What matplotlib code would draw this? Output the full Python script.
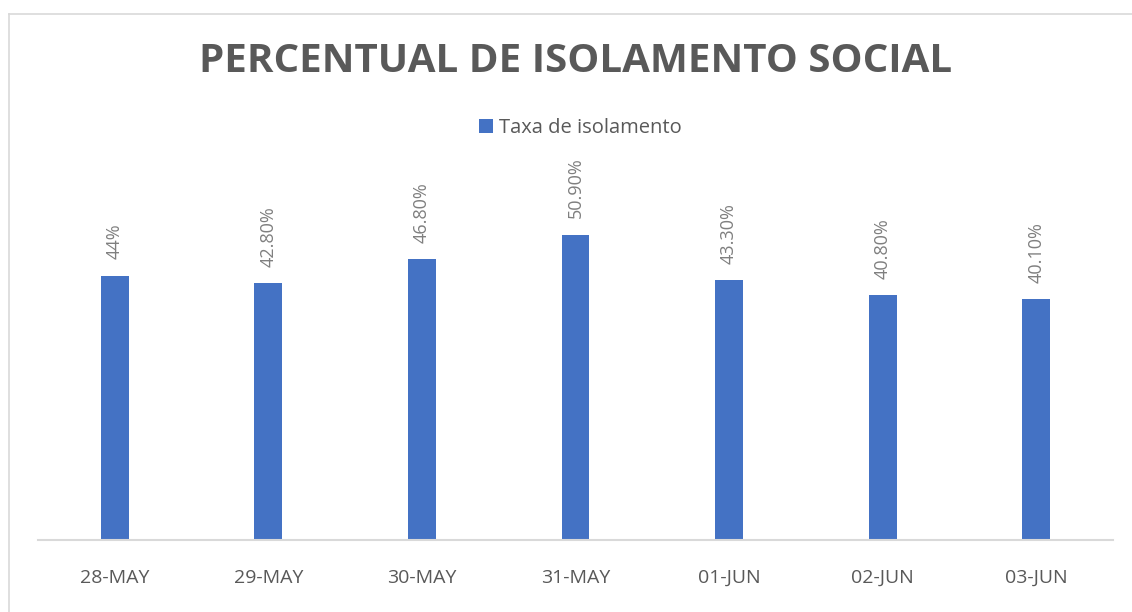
import matplotlib
matplotlib.use("Agg")
import matplotlib.pyplot as plt
from matplotlib.lines import Line2D
from matplotlib.patches import Patch

categories = ["28-MAY", "29-MAY", "30-MAY", "31-MAY", "01-JUN", "02-JUN", "03-JUN"]
values = [44.0, 42.8, 46.8, 50.9, 43.3, 40.8, 40.1]
value_labels = ["44%", "42.80%", "46.80%", "50.90%", "43.30%", "40.80%", "40.10%"]
series_name = "Taxa de isolamento"
title = "PERCENTUAL DE ISOLAMENTO SOCIAL"

plt.rcParams['font.family'] = ['Open Sans', 'DejaVu Sans']

W, H = 1132, 612
fig = plt.figure(figsize=(W / 100, H / 100), dpi=100)
fig.patch.set_facecolor("white")

# chart border (top and left visible)
bx, by = 8.5 / W, 1 - 13.5 / H
fig.add_artist(Line2D([bx, 1.0], [by, by], transform=fig.transFigure, color="#d9d9d9", lw=1.2))
fig.add_artist(Line2D([bx, bx], [0, by], transform=fig.transFigure, color="#d9d9d9", lw=1.2))

ax = fig.add_axes([38 / W, 1 - 540 / H, (1113 - 38) / W, (540 - 180) / H])
x = list(range(len(categories)))
bars = ax.bar(x, values, width=0.182, color="#4472c4", zorder=2)
ax.set_xlim(-0.5, len(categories) - 0.5)
ax.set_ylim(0, 60)
ax.set_yticks([])
for s in ["top", "right", "left"]:
    ax.spines[s].set_visible(False)
ax.spines["bottom"].set_color("#d9d9d9")
ax.spines["bottom"].set_linewidth(1.5)
ax.set_xticks(x)
ax.set_xticklabels(categories, fontsize=14, color="#595959")
ax.tick_params(axis="x", length=0, pad=21)

for xi, v, lab in zip(x, values, value_labels):
    ax.annotate(lab, (xi, v), xytext=(0, 12), textcoords="offset points",
                rotation=90, ha="center", va="bottom", fontsize=13, color="#7f7f7f")

fig.text(575.5 / W, 1 - 61 / H, title, ha="center", va="center",
         fontsize=29, fontweight="bold", color="#595959")

handle = Patch(facecolor="#4472c4", edgecolor="none")
fig.legend([handle], [series_name], loc="center", bbox_to_anchor=(580 / W, 1 - 128 / H),
           frameon=False, fontsize=14.5, handlelength=0.7, handleheight=0.7,
           handletextpad=0.3, labelcolor="#595959")

fig.savefig("out.png", dpi=100, facecolor="white")
